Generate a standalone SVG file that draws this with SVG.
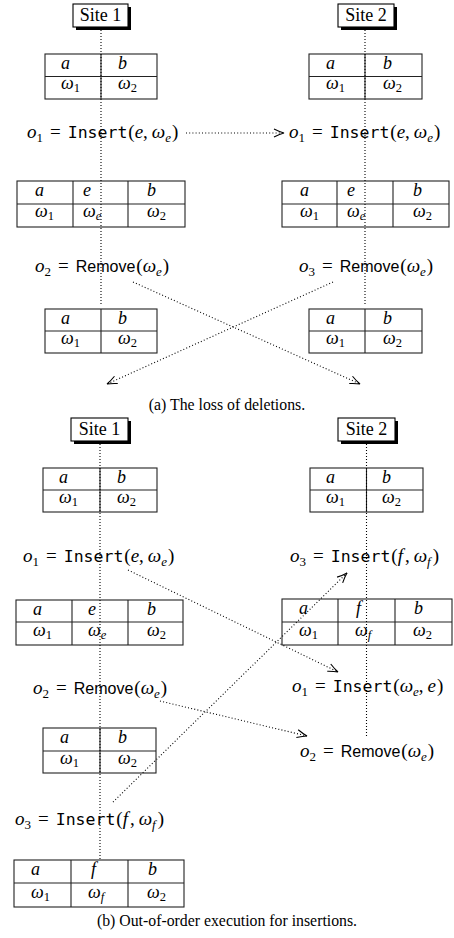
<svg xmlns="http://www.w3.org/2000/svg" width="454" height="938" viewBox="0 0 454 938">
<style>
.bg{fill:#fff}
.cell{fill:#fff;stroke:#222;stroke-width:1.1}
.div{stroke:#222;stroke-width:1.1;fill:none}
.site{fill:#fff;stroke:#000;stroke-width:1.1}
.shadow{fill:#000}
.life{stroke:#000;stroke-width:1.1;stroke-dasharray:1 2;fill:none}
.msg{stroke:#000;stroke-width:1.1;stroke-dasharray:1 2.2;fill:none;marker-end:url(#ah)}
text{font-family:"Liberation Serif","DejaVu Serif",serif;font-size:18px;fill:#000}
.i{font-style:italic}
.s{font-size:12.5px}
.tt{font-family:"DejaVu Sans Mono","Liberation Mono",monospace;font-size:15px}
.sf{font-family:"Liberation Sans","DejaVu Sans",sans-serif;font-size:16px}
.lb{font-size:19px}
.lb .tt{font-size:16.5px}
.lb .s{font-size:13px}
.cap{font-size:15.8px}
</style>
<defs>
<marker id="ah" markerUnits="userSpaceOnUse" markerWidth="14" markerHeight="12" viewBox="-12 -6 14 12" refX="0" refY="0" orient="auto" overflow="visible">
<path d="M-10,-4 Q-4,-1 0,0 Q-4,1 -10,4" fill="none" stroke="#000" stroke-width="1.1"/>
</marker>
</defs>
<rect class="bg" x="0" y="0" width="454" height="938"/>

<!-- ===== (a) ===== -->
<g id="a-site1">
<rect class="shadow" x="76" y="7" width="55" height="23"/>
<rect class="site" x="73" y="4" width="55" height="23"/>
<text x="100.5" y="21" text-anchor="middle">Site 1</text>
</g>
<g id="a-site2">
<rect class="shadow" x="341" y="7" width="56" height="23"/>
<rect class="site" x="338" y="4" width="56" height="23"/>
<text x="366" y="21" text-anchor="middle">Site 2</text>
</g>

<g id="a-s1-t1">
<rect class="cell" x="45" y="54" width="112" height="45"/>
<path class="div" d="M45,76.5H157M101,54V99"/>
<text class="i" x="61" y="69">a</text><text class="i" x="118" y="69">b</text>
<text x="61" y="89"><tspan class="i">ω</tspan><tspan class="s" dy="3">1</tspan></text>
<text x="118" y="89"><tspan class="i">ω</tspan><tspan class="s" dy="3">2</tspan></text>
</g>
<g id="a-s2-t1">
<rect class="cell" x="309" y="54" width="113" height="45"/>
<path class="div" d="M309,76.5H422M365,54V99"/>
<text class="i" x="326" y="69">a</text><text class="i" x="383" y="69">b</text>
<text x="326" y="89"><tspan class="i">ω</tspan><tspan class="s" dy="3">1</tspan></text>
<text x="383" y="89"><tspan class="i">ω</tspan><tspan class="s" dy="3">2</tspan></text>
</g>

<g id="a-s1-op1">
<text class="lb" x="27" y="138"><tspan class="i">o</tspan><tspan class="s" dy="4">1</tspan><tspan dx="7" dy="-4">=</tspan><tspan class="tt" dx="7">Insert</tspan><tspan dx="1">(</tspan><tspan class="i">e</tspan><tspan>,</tspan><tspan class="i" dx="4">ω</tspan><tspan class="i s" dy="4">e</tspan><tspan dx="1" dy="-4">)</tspan></text>
</g>
<g id="a-s2-op1">
<text class="lb" x="289" y="138"><tspan class="i">o</tspan><tspan class="s" dy="4">1</tspan><tspan dx="7" dy="-4">=</tspan><tspan class="tt" dx="7">Insert</tspan><tspan dx="1">(</tspan><tspan class="i">e</tspan><tspan>,</tspan><tspan class="i" dx="4">ω</tspan><tspan class="i s" dy="4">e</tspan><tspan dx="1" dy="-4">)</tspan></text>
</g>

<g id="a-s1-t2">
<rect class="cell" x="17" y="181" width="168" height="46"/>
<path class="div" d="M17,204H185M73,181V227M128,181V227"/>
<text class="i" x="35" y="196">a</text><text class="i" x="83" y="196">e</text><text class="i" x="147" y="196">b</text>
<text x="35" y="217"><tspan class="i">ω</tspan><tspan class="s" dy="3">1</tspan></text>
<text x="83" y="217"><tspan class="i">ω</tspan><tspan class="i s" dy="3">e</tspan></text>
<text x="147" y="217"><tspan class="i">ω</tspan><tspan class="s" dy="3">2</tspan></text>
</g>
<g id="a-s2-t2">
<rect class="cell" x="282" y="181" width="167" height="46"/>
<path class="div" d="M282,204H449M337,181V227M393,181V227"/>
<text class="i" x="300" y="196">a</text><text class="i" x="347" y="196">e</text><text class="i" x="413" y="196">b</text>
<text x="300" y="217"><tspan class="i">ω</tspan><tspan class="s" dy="3">1</tspan></text>
<text x="347" y="217"><tspan class="i">ω</tspan><tspan class="i s" dy="3">e</tspan></text>
<text x="413" y="217"><tspan class="i">ω</tspan><tspan class="s" dy="3">2</tspan></text>
</g>

<g id="a-s1-op2">
<text class="lb" x="35" y="272"><tspan class="i">o</tspan><tspan class="s" dy="4">2</tspan><tspan dx="7" dy="-4">=</tspan><tspan class="sf" dx="7">Remove</tspan><tspan dx="1">(</tspan><tspan class="i">ω</tspan><tspan class="i s" dy="4">e</tspan><tspan dx="1" dy="-4">)</tspan></text>
</g>
<g id="a-s2-op3">
<text class="lb" x="299" y="272"><tspan class="i">o</tspan><tspan class="s" dy="4">3</tspan><tspan dx="7" dy="-4">=</tspan><tspan class="sf" dx="7">Remove</tspan><tspan dx="1">(</tspan><tspan class="i">ω</tspan><tspan class="i s" dy="4">e</tspan><tspan dx="1" dy="-4">)</tspan></text>
</g>

<g id="a-s1-t3">
<rect class="cell" x="45" y="309" width="112" height="44"/>
<path class="div" d="M45,331H157M101,309V353"/>
<text class="i" x="61" y="324">a</text><text class="i" x="118" y="324">b</text>
<text x="61" y="344"><tspan class="i">ω</tspan><tspan class="s" dy="3">1</tspan></text>
<text x="118" y="344"><tspan class="i">ω</tspan><tspan class="s" dy="3">2</tspan></text>
</g>
<g id="a-s2-t3">
<rect class="cell" x="309" y="309" width="113" height="44"/>
<path class="div" d="M309,331H422M365,309V353"/>
<text class="i" x="326" y="324">a</text><text class="i" x="383" y="324">b</text>
<text x="326" y="344"><tspan class="i">ω</tspan><tspan class="s" dy="3">1</tspan></text>
<text x="383" y="344"><tspan class="i">ω</tspan><tspan class="s" dy="3">2</tspan></text>
</g>

<text class="cap" x="227" y="410" text-anchor="middle">(a) The loss of deletions.</text>

<!-- ===== (b) ===== -->
<g id="b-site1">
<rect class="shadow" x="74" y="421" width="57" height="23"/>
<rect class="site" x="71" y="418" width="57" height="23"/>
<text x="99.5" y="435" text-anchor="middle">Site 1</text>
</g>
<g id="b-site2">
<rect class="shadow" x="341" y="421" width="57" height="23"/>
<rect class="site" x="338" y="418" width="57" height="23"/>
<text x="366.5" y="435" text-anchor="middle">Site 2</text>
</g>

<g id="b-s1-t1">
<rect class="cell" x="43" y="468" width="114" height="44"/>
<path class="div" d="M43,490H157M100,468V512"/>
<text class="i" x="59" y="483">a</text><text class="i" x="117" y="483">b</text>
<text x="59" y="503"><tspan class="i">ω</tspan><tspan class="s" dy="3">1</tspan></text>
<text x="117" y="503"><tspan class="i">ω</tspan><tspan class="s" dy="3">2</tspan></text>
</g>
<g id="b-s2-t1">
<rect class="cell" x="310" y="468" width="113" height="44"/>
<path class="div" d="M310,490H423M366.5,468V512"/>
<text class="i" x="326" y="483">a</text><text class="i" x="382" y="483">b</text>
<text x="326" y="503"><tspan class="i">ω</tspan><tspan class="s" dy="3">1</tspan></text>
<text x="382" y="503"><tspan class="i">ω</tspan><tspan class="s" dy="3">2</tspan></text>
</g>

<g id="b-s1-op1">
<text class="lb" x="23" y="562"><tspan class="i">o</tspan><tspan class="s" dy="4">1</tspan><tspan dx="7" dy="-4">=</tspan><tspan class="tt" dx="7">Insert</tspan><tspan dx="1">(</tspan><tspan class="i">e</tspan><tspan>,</tspan><tspan class="i" dx="4">ω</tspan><tspan class="i s" dy="4">e</tspan><tspan dx="1" dy="-4">)</tspan></text>
</g>
<g id="b-s2-op3">
<text class="lb" x="290" y="562"><tspan class="i">o</tspan><tspan class="s" dy="4">3</tspan><tspan dx="7" dy="-4">=</tspan><tspan class="tt" dx="7">Insert</tspan><tspan dx="1">(</tspan><tspan class="i">f</tspan><tspan dx="2">,</tspan><tspan class="i" dx="4">ω</tspan><tspan class="i s" dy="4">f</tspan><tspan dx="2" dy="-4">)</tspan></text>
</g>

<g id="b-s1-t2">
<rect class="cell" x="16" y="600" width="167" height="45"/>
<path class="div" d="M16,622H183M72,600V645M128,600V645"/>
<text class="i" x="33" y="615">a</text><text class="i" x="88" y="615">e</text><text class="i" x="147" y="615">b</text>
<text x="33" y="636"><tspan class="i">ω</tspan><tspan class="s" dy="3">1</tspan></text>
<text x="88" y="636"><tspan class="i">ω</tspan><tspan class="i s" dy="3">e</tspan></text>
<text x="147" y="636"><tspan class="i">ω</tspan><tspan class="s" dy="3">2</tspan></text>
</g>
<g id="b-s2-t2">
<rect class="cell" x="282" y="599" width="170" height="46"/>
<path class="div" d="M282,622H452M338,599V645M395,599V645"/>
<text class="i" x="299" y="614">a</text><text class="i" x="356" y="614">f</text><text class="i" x="414" y="614">b</text>
<text x="299" y="636"><tspan class="i">ω</tspan><tspan class="s" dy="3">1</tspan></text>
<text x="355" y="636"><tspan class="i">ω</tspan><tspan class="i s" dy="3">f</tspan></text>
<text x="413" y="636"><tspan class="i">ω</tspan><tspan class="s" dy="3">2</tspan></text>
</g>

<g id="b-s1-op2">
<text class="lb" x="33" y="694"><tspan class="i">o</tspan><tspan class="s" dy="4">2</tspan><tspan dx="7" dy="-4">=</tspan><tspan class="sf" dx="7">Remove</tspan><tspan dx="1">(</tspan><tspan class="i">ω</tspan><tspan class="i s" dy="4">e</tspan><tspan dx="1" dy="-4">)</tspan></text>
</g>
<g id="b-s2-op1">
<text class="lb" x="292" y="692"><tspan class="i">o</tspan><tspan class="s" dy="4">1</tspan><tspan dx="7" dy="-4">=</tspan><tspan class="tt" dx="7">Insert</tspan><tspan dx="1">(</tspan><tspan class="i">ω</tspan><tspan class="i s" dy="4">e</tspan><tspan dy="-4">,</tspan><tspan class="i" dx="4">e</tspan><tspan dx="1">)</tspan></text>
</g>

<g id="b-s1-t3">
<rect class="cell" x="43" y="728" width="113" height="45"/>
<path class="div" d="M43,751H156M100,728V773"/>
<text class="i" x="60" y="743">a</text><text class="i" x="118" y="743">b</text>
<text x="60" y="764"><tspan class="i">ω</tspan><tspan class="s" dy="3">1</tspan></text>
<text x="118" y="764"><tspan class="i">ω</tspan><tspan class="s" dy="3">2</tspan></text>
</g>
<g id="b-s2-op2">
<text class="lb" x="300" y="757"><tspan class="i">o</tspan><tspan class="s" dy="4">2</tspan><tspan dx="7" dy="-4">=</tspan><tspan class="sf" dx="7">Remove</tspan><tspan dx="1">(</tspan><tspan class="i">ω</tspan><tspan class="i s" dy="4">e</tspan><tspan dx="1" dy="-4">)</tspan></text>
</g>

<g id="b-s1-op3">
<text class="lb" x="15" y="825"><tspan class="i">o</tspan><tspan class="s" dy="4">3</tspan><tspan dx="7" dy="-4">=</tspan><tspan class="tt" dx="7">Insert</tspan><tspan dx="1">(</tspan><tspan class="i">f</tspan><tspan dx="2">,</tspan><tspan class="i" dx="4">ω</tspan><tspan class="i s" dy="4">f</tspan><tspan dx="2" dy="-4">)</tspan></text>
</g>

<g id="b-s1-t4">
<rect class="cell" x="14" y="860" width="170" height="47"/>
<path class="div" d="M14,883H184M71,860V907M128,860V907"/>
<text class="i" x="31" y="875">a</text><text class="i" x="91" y="875">f</text><text class="i" x="148" y="875">b</text>
<text x="31" y="898"><tspan class="i">ω</tspan><tspan class="s" dy="3">1</tspan></text>
<text x="88" y="898"><tspan class="i">ω</tspan><tspan class="i s" dy="3">f</tspan></text>
<text x="147" y="898"><tspan class="i">ω</tspan><tspan class="s" dy="3">2</tspan></text>
</g>

<text class="cap" x="227" y="926" text-anchor="middle">(b) Out-of-order execution for insertions.</text>

<!-- connectors -->
<g id="connectors">
<path class="life" d="M101,27V305"/>
<path class="life" d="M365,27V305"/>
<path class="life" d="M100,441V860"/>
<path class="life" d="M366.5,441V737"/>
<path class="msg" d="M186,133H284"/>
<path class="msg" d="M133,282L360,384"/>
<path class="msg" d="M333,282L107,384"/>
<path class="msg" d="M128,570L338,672"/>
<path class="msg" d="M160,701L307,736"/>
<path class="msg" d="M113,802L347,573"/>
</g>
</svg>
